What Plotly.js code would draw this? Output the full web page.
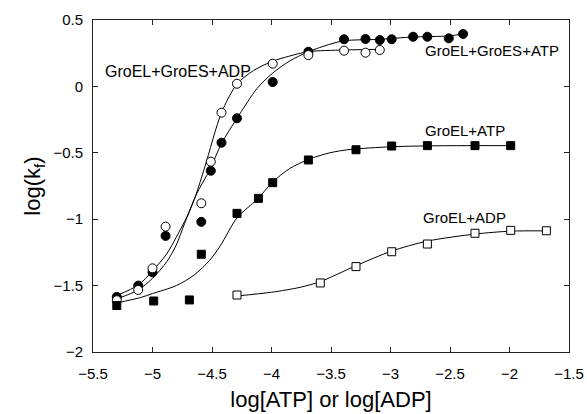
<!DOCTYPE html>
<html>
<head>
<meta charset="utf-8">
<script src="https://cdn.plot.ly/plotly-3.0.1.min.js"></script>
<style>html,body{margin:0;padding:0;background:#fff;}#chart{width:587px;height:414px;}</style>
</head>
<body>
<div id="chart"></div>
<script>
// GroEL+GroES+ATP (filled circles)
const esAtpX = [-5.3, -5.12, -5.0, -4.89, -4.59, -4.51, -4.42, -4.29, -3.99, -3.69, -3.39, -3.21, -3.09, -2.99, -2.81, -2.69, -2.51, -2.39];
const esAtpY = [-1.585, -1.50, -1.40, -1.126, -1.02, -0.635, -0.424, -0.24, 0.033, 0.261, 0.355, 0.357, 0.349, 0.355, 0.374, 0.374, 0.362, 0.395];
// GroEL+GroES+ADP (open circles)
const esAdpX = [-5.3, -5.12, -5.0, -4.89, -4.59, -4.51, -4.42, -4.29, -3.99, -3.69, -3.39, -3.21, -3.09];
const esAdpY = [-1.61, -1.533, -1.37, -1.056, -0.88, -0.567, -0.198, 0.02, 0.171, 0.236, 0.269, 0.254, 0.274];
// GroEL+ATP (filled squares)
const elAtpX = [-5.3, -4.99, -4.69, -4.59, -4.29, -4.11, -3.99, -3.69, -3.29, -2.99, -2.69, -2.29, -1.99];
const elAtpY = [-1.65, -1.616, -1.608, -1.264, -0.956, -0.843, -0.725, -0.554, -0.477, -0.449, -0.446, -0.446, -0.446];
// GroEL+ADP (open squares)
const elAdpX = [-4.29, -3.59, -3.29, -2.99, -2.69, -2.29, -1.99, -1.69];
const elAdpY = [-1.571, -1.48, -1.357, -1.245, -1.187, -1.106, -1.084, -1.087];

// fitted curves
const fitEsAtpX = [-5.3, -5.12, -5.0, -4.88, -4.8, -4.71, -4.63, -4.52, -4.42, -4.29, -4.12, -3.99, -3.85, -3.69, -3.5, -3.39, -3.09, -2.81, -2.51, -2.39];
const fitEsAtpY = [-1.575, -1.496, -1.39, -1.26, -1.135, -0.98, -0.81, -0.63, -0.43, -0.24, -0.014, 0.1, 0.19, 0.261, 0.32, 0.344, 0.355, 0.372, 0.38, 0.395];
const fitEsAdpX = [-5.3, -5.12, -5.0, -4.88, -4.8, -4.73, -4.64, -4.56, -4.42, -4.29, -4.15, -3.99, -3.85, -3.69, -3.39, -3.09];
const fitEsAdpY = [-1.60, -1.533, -1.445, -1.32, -1.194, -1.031, -0.83, -0.605, -0.198, 0.018, 0.12, 0.19, 0.228, 0.262, 0.274, 0.279];
const fitElAtpX = [-5.3, -5.1, -5.0, -4.8, -4.65, -4.52, -4.43, -4.29, -4.12, -3.99, -3.85, -3.69, -3.51, -3.34, -3.0, -2.7, -2.3, -1.99];
const fitElAtpY = [-1.63, -1.59, -1.56, -1.50, -1.42, -1.31, -1.20, -0.99, -0.85, -0.72, -0.62, -0.55, -0.50, -0.475, -0.455, -0.448, -0.446, -0.446];
const fitElAdpX = [-4.29, -4.0, -3.76, -3.59, -3.29, -2.99, -2.69, -2.29, -1.99, -1.68];
const fitElAdpY = [-1.578, -1.55, -1.513, -1.47, -1.35, -1.24, -1.165, -1.112, -1.09, -1.088];

const labels = ['GroEL+GroES+ADP', 'GroEL+GroES+ATP', 'GroEL+ATP', 'GroEL+ADP'];
const labelX = [-5.42, -2.73, -2.73, -2.74];
const labelY = [0.116, 0.27, -0.332, -0.987];
const labelSize = [16, 15, 15, 15];

const FONT = '"Liberation Sans", Arial, Helvetica, sans-serif';
const line = {color: '#000', width: 1, shape: 'spline', smoothing: 0.8};

const traces = [
  {x: fitEsAtpX, y: fitEsAtpY, mode: 'lines', line: line, showlegend: false, hoverinfo: 'skip'},
  {x: fitEsAdpX, y: fitEsAdpY, mode: 'lines', line: line, showlegend: false, hoverinfo: 'skip'},
  {x: fitElAtpX, y: fitElAtpY, mode: 'lines', line: line, showlegend: false, hoverinfo: 'skip'},
  {x: fitElAdpX, y: fitElAdpY, mode: 'lines', line: line, showlegend: false, hoverinfo: 'skip'},
  {x: esAtpX, y: esAtpY, mode: 'markers', name: 'GroEL+GroES+ATP',
   marker: {symbol: 'circle', size: 9, color: '#000', line: {color: '#000', width: 1}}},
  {x: esAdpX, y: esAdpY, mode: 'markers', name: 'GroEL+GroES+ADP',
   marker: {symbol: 'circle', size: 9, color: '#fff', line: {color: '#000', width: 1}}},
  {x: elAtpX, y: elAtpY, mode: 'markers', name: 'GroEL+ATP',
   marker: {symbol: 'square', size: 8, color: '#000', line: {color: '#000', width: 1}}},
  {x: elAdpX, y: elAdpY, mode: 'markers', name: 'GroEL+ADP',
   marker: {symbol: 'square', size: 8, color: '#fff', line: {color: '#000', width: 1}}}
];

const annotations = labels.map((t, i) => ({
  text: t, x: labelX[i], y: labelY[i], xref: 'x', yref: 'y',
  xanchor: 'left', yanchor: 'middle', showarrow: false,
  font: {family: FONT, size: labelSize[i], color: '#000'}
}));

const axisCommon = {
  showgrid: false, zeroline: false, showline: true, linecolor: '#222', linewidth: 1,
  mirror: 'ticks', ticks: 'inside', ticklen: 5, tickcolor: '#222', tickwidth: 1,
  tickfont: {family: FONT, size: 15, color: '#000'}
};

const layout = {
  width: 587, height: 414,
  margin: {l: 93, r: 18, t: 20, b: 62},
  paper_bgcolor: '#fff', plot_bgcolor: '#fff',
  showlegend: false,
  font: {family: FONT, color: '#000'},
  xaxis: Object.assign({}, axisCommon, {
    range: [-5.5, -1.5], dtick: 0.5, tick0: -5.5, ticklabelstandoff: 8,
    title: {text: 'log[ATP] or log[ADP]', font: {family: FONT, size: 22, color: '#000'}, standoff: 10}
  }),
  yaxis: Object.assign({}, axisCommon, {
    range: [-2, 0.5], dtick: 0.5, tick0: -2, ticklabelstandoff: 6,
    title: {text: 'log(k<sub>f</sub>)', font: {family: FONT, size: 22, color: '#000'}, standoff: 6}
  }),
  annotations: annotations
};

Plotly.newPlot('chart', traces, layout, {displayModeBar: false, staticPlot: true});
</script>
</body>
</html>
